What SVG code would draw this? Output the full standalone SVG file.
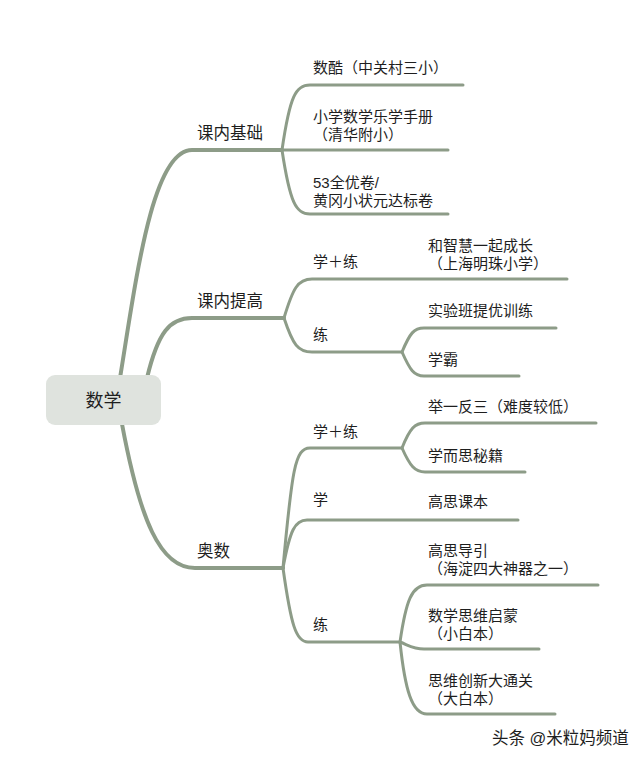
<svg xmlns="http://www.w3.org/2000/svg" width="640" height="761" viewBox="0 0 640 761">
<style>
.l{fill:none;stroke:#8d9c88;stroke-linecap:round}
.m{stroke-width:4}
.s{stroke-width:3}
text{font-family:"Liberation Sans","Noto Sans CJK SC",sans-serif;fill:#1e1e1e}
.t1{font-size:16.5px}
.t2{font-size:15px}
</style>
<rect width="640" height="761" fill="#ffffff"/>
<g id="connectors">
<path class="l m" d="M120,378 C136,280 152,150 192,150 L282,150"/>
<path class="l m" d="M147,378 C158,332 170,318 192,318 L284,318"/>
<path class="l m" d="M122,424 C140,520 160,568 195,568 L283,568"/>
<path class="l s" d="M282,150 C290,95 296,85 310,85 L463,85"/>
<path class="l s" d="M282,150 L448,150"/>
<path class="l s" d="M282,150 C290,203 296,214 310,214 L448,214"/>
<path class="l s" d="M284,318 C293,288 298,279 312,279 L567,279"/>
<path class="l s" d="M284,318 C293,345 298,352 312,352 L402,352"/>
<path class="l s" d="M402,352 C410,333 414,328 424,328 L556,328"/>
<path class="l s" d="M402,352 C410,370 414,376 424,376 L519,376"/>
<path class="l s" d="M283,568 C292,470 295,448 310,448 L402,448"/>
<path class="l s" d="M283,568 C290,530 295,520 307,520 L518,520"/>
<path class="l s" d="M283,568 C291,625 296,642 308,642 L400,642"/>
<path class="l s" d="M402,448 C410,428 415,423 425,423 L596,423"/>
<path class="l s" d="M402,448 C410,466 415,472 425,472 L525,472"/>
<path class="l s" d="M400,642 C406,600 412,585 427,585 L598,585"/>
<path class="l s" d="M400,642 C410,646 414,649 424,649 L539,649"/>
<path class="l s" d="M400,642 C405,690 412,714 427,714 L555,714"/>
</g>
<g id="root"><rect x="46" y="375" width="115" height="50" rx="9" fill="#dfe3de"/><text x="103.5" y="407" font-size="18" text-anchor="middle">数学</text></g>
<g id="n-jichu"><text class="t1" x="197" y="139">课内基础</text></g>
<g id="n-tigao"><text class="t1" x="197" y="307">课内提高</text></g>
<g id="n-aoshu"><text class="t1" x="197" y="557">奥数</text></g>
<g id="n-shuku"><text class="t2" x="313" y="73">数酷（中关村三小）</text></g>
<g id="n-lexue"><text class="t2" x="313" y="122">小学数学乐学手册<tspan x="313" dy="18">（清华附小）</tspan></text></g>
<g id="n-53"><text class="t2" x="313" y="188">53全优卷/<tspan x="313" dy="17.5">黄冈小状元达标卷</tspan></text></g>
<g id="n-tg-xl"><text class="t2" x="313" y="267">学＋练</text></g>
<g id="n-tg-l"><text class="t2" x="313" y="340">练</text></g>
<g id="n-hezhihui"><text class="t2" x="428" y="251">和智慧一起成长<tspan x="428" dy="18">（上海明珠小学）</tspan></text></g>
<g id="n-shiyanban"><text class="t2" x="428" y="316">实验班提优训练</text></g>
<g id="n-xueba"><text class="t2" x="428" y="365">学霸</text></g>
<g id="n-as-xl"><text class="t2" x="313" y="437">学＋练</text></g>
<g id="n-as-x"><text class="t2" x="313" y="505">学</text></g>
<g id="n-as-l"><text class="t2" x="313" y="630">练</text></g>
<g id="n-juyi"><text class="t2" x="428" y="412">举一反三（难度较低）</text></g>
<g id="n-xueersi"><text class="t2" x="428" y="461">学而思秘籍</text></g>
<g id="n-kebeng"><text class="t2" x="428" y="507">高思课本</text></g>
<g id="n-daoyin"><text class="t2" x="428" y="556">高思导引<tspan x="428" dy="18">（海淀四大神器之一）</tspan></text></g>
<g id="n-qimeng"><text class="t2" x="428" y="621">数学思维启蒙<tspan x="428" dy="18">（小白本）</tspan></text></g>
<g id="n-chuangxin"><text class="t2" x="428" y="686">思维创新大通关<tspan x="428" dy="18">（大白本）</tspan></text></g>
<g id="credit"><text x="492" y="744" font-size="16.5" fill="#333">头条 @米粒妈频道</text></g>
</svg>
